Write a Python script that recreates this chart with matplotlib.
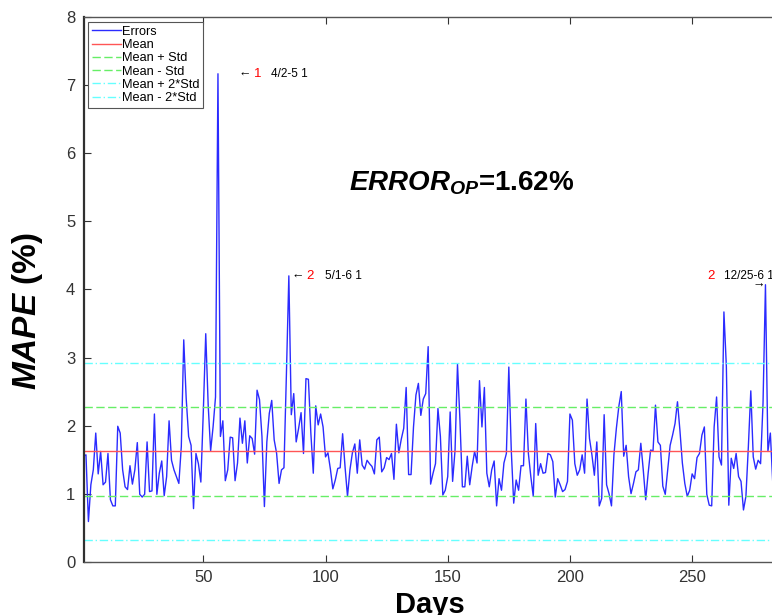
import numpy as np
import matplotlib
matplotlib.use("Agg")
import matplotlib.pyplot as plt

plt.rcParams['font.family'] = ['Liberation Sans', 'DejaVu Sans']
plt.rcParams['mathtext.fontset'] = 'custom'
plt.rcParams['mathtext.it'] = 'Liberation Sans:bold:italic'
plt.rcParams['mathtext.rm'] = 'Liberation Sans:bold'

# daily MAPE (%) values
errors = [
    1.55, 1.57, 0.59, 1.13, 1.35, 1.89, 1.29, 1.62, 1.13, 1.17,
    1.59, 0.91, 0.82, 0.82, 1.99, 1.89, 1.35, 1.10, 1.06, 1.41,
    1.14, 1.35, 1.75, 0.99, 0.95, 0.99, 1.76, 1.03, 1.04, 2.17,
    0.99, 1.30, 1.48, 0.97, 1.25, 2.07, 1.49, 1.35, 1.25, 1.15,
    1.69, 3.26, 2.40, 1.84, 1.71, 0.78, 1.59, 1.44, 1.17, 2.20,
    3.35, 2.30, 1.63, 1.98, 2.42, 7.17, 1.84, 2.07, 1.19, 1.35,
    1.83, 1.82, 1.19, 1.45, 2.11, 1.74, 2.07, 1.45, 1.85, 1.81,
    1.58, 2.52, 2.38, 1.84, 0.81, 1.76, 2.18, 2.37, 1.79, 1.59,
    1.15, 1.35, 1.38, 2.75, 4.20, 2.16, 2.47, 1.76, 1.96, 2.19,
    1.59, 2.69, 2.68, 1.89, 1.30, 2.29, 2.01, 2.17, 1.98, 1.54,
    1.60, 1.36, 1.07, 1.20, 1.37, 1.38, 1.88, 1.39, 0.96, 1.35,
    1.60, 1.73, 1.30, 1.79, 1.42, 1.36, 1.49, 1.44, 1.40, 1.29,
    1.79, 1.83, 1.32, 1.38, 1.53, 1.50, 1.59, 1.21, 2.02, 1.60,
    1.80, 1.96, 2.56, 1.28, 1.28, 1.98, 2.45, 2.62, 2.15, 2.39,
    2.47, 3.16, 1.14, 1.30, 1.44, 2.25, 1.84, 0.98, 1.05, 1.25,
    2.20, 1.18, 1.64, 2.90, 2.08, 1.10, 1.10, 1.55, 1.13, 1.40,
    1.62, 1.45, 2.66, 1.98, 2.56, 1.30, 1.10, 1.35, 1.48, 0.82,
    1.22, 1.05, 1.45, 1.59, 2.86, 1.64, 0.86, 1.20, 1.05, 1.41,
    1.41, 2.39, 1.59, 1.25, 0.96, 2.03, 1.27, 1.44, 1.30, 1.31,
    1.59, 1.57, 1.47, 0.95, 1.22, 1.13, 1.03, 1.06, 1.18, 2.17,
    2.08, 1.44, 1.27, 1.35, 1.57, 1.30, 2.39, 1.81, 1.57, 1.27,
    1.76, 0.82, 0.93, 2.16, 1.13, 1.00, 0.82, 1.57, 1.96, 2.28,
    2.50, 1.55, 1.71, 1.25, 1.00, 1.15, 1.32, 1.35, 1.74, 1.35,
    0.91, 1.30, 1.64, 1.63, 2.30, 1.76, 1.71, 1.11, 0.99, 1.35,
    1.71, 1.86, 2.03, 2.35, 1.93, 1.45, 1.15, 0.96, 1.05, 1.29,
    1.22, 1.53, 1.59, 1.86, 1.98, 0.99, 0.83, 0.82, 1.98, 2.42,
    1.54, 1.42, 3.67, 2.87, 0.83, 1.52, 1.37, 1.59, 1.25, 1.18,
    0.76, 0.96, 1.69, 2.51, 1.54, 1.36, 1.49, 1.44, 2.33, 4.07,
    1.62, 1.89, 1.15,
]
days = np.arange(1, len(errors) + 1)

mean_err = 1.62
std_err = 0.65

# labelled peaks: (day, rank, date text)
peak_days = [56, 85, 280]
peak_ranks = ['1', '2', '2']
peak_dates = ['4/2-5 1', '5/1-6 1', '12/25-6 1']

fig = plt.figure(figsize=(7.72, 6.15), dpi=100)
ax = fig.add_axes([0.1082, 0.0867, 0.896, 0.8852])

ax.plot(days, errors, color='#2b2bff', lw=1.0, label='Errors')
ax.axhline(mean_err, color='#ff5555', lw=1.0, label='Mean')
ax.axhline(mean_err + std_err, color='#66ee66', lw=1.0, dashes=(6, 2.5), label='Mean + Std')
ax.axhline(mean_err - std_err, color='#66ee66', lw=1.0, dashes=(6, 2.5), label='Mean - Std')
ax.axhline(mean_err + 2 * std_err, color='#66ffff', lw=1.0, dashes=(6, 2, 1, 2), label='Mean + 2*Std')
ax.axhline(mean_err - 2 * std_err, color='#66ffff', lw=1.0, dashes=(6, 2, 1, 2), label='Mean - 2*Std')

ax.set_xlim(1, 284)
ax.set_ylim(0, 8)
ax.set_xticks([50, 100, 150, 200, 250])
ax.set_yticks(range(0, 9))
ax.tick_params(direction='in', length=5, top=True, right=False, labelsize=12,
               colors='#333333', pad=6)
for s in ax.spines.values():
    s.set_color('#555555')
    s.set_linewidth(1.0)
ax.spines['left'].set_color('#303030')
ax.spines['left'].set_linewidth(1.6)

ax.set_xlabel('Days', fontsize=21, fontweight='bold', labelpad=4)
ax.set_ylabel(r'$\mathit{MAPE}$ (%)', fontsize=24, fontweight='bold')
ax.yaxis.set_label_coords(-0.056, 0.46)

# peak labels
d1, d2, d3 = peak_days
ax.text(d1 + 8.2, errors[d1 - 1], '\u2190', fontsize=9, va='center', ha='left')
ax.text(d1 + 14.6, errors[d1 - 1], peak_ranks[0], fontsize=9.5, color='red', va='center', ha='left')
ax.text(d1 + 21.7, errors[d1 - 1], peak_dates[0], fontsize=8.5, va='center', ha='left')

ax.text(d2 + 0.9, errors[d2 - 1], '\u2190', fontsize=9, va='center', ha='left')
ax.text(d2 + 7.3, errors[d2 - 1], peak_ranks[1], fontsize=9.5, color='red', va='center', ha='left')
ax.text(d2 + 14.8, errors[d2 - 1], peak_dates[1], fontsize=8.5, va='center', ha='left')

ax.text(d3, errors[d3 - 1], '\u2192', fontsize=9, va='center', ha='right')
ax.text(d3 - 23.6, errors[d3 - 1] + 0.13, peak_ranks[2], fontsize=9.5, color='red', va='center', ha='left')
ax.text(d3 - 17.0, errors[d3 - 1] + 0.13, peak_dates[2], fontsize=8.5, va='center', ha='left')

ax.text(109.6, 5.46, r'$\mathit{ERROR_{OP}}$' + '=%.2f%%' % mean_err,
        fontsize=20, fontweight='bold', va='baseline', ha='left')

leg = ax.legend(loc='upper left', bbox_to_anchor=(0.0065, 0.9914), borderaxespad=0,
                fontsize=9.2, handlelength=2.3, handletextpad=0.05, labelspacing=0.1,
                borderpad=0.3, fancybox=False, framealpha=1, edgecolor='#555555')
leg.get_frame().set_linewidth(0.8)

plt.savefig('out.png', dpi=100)
